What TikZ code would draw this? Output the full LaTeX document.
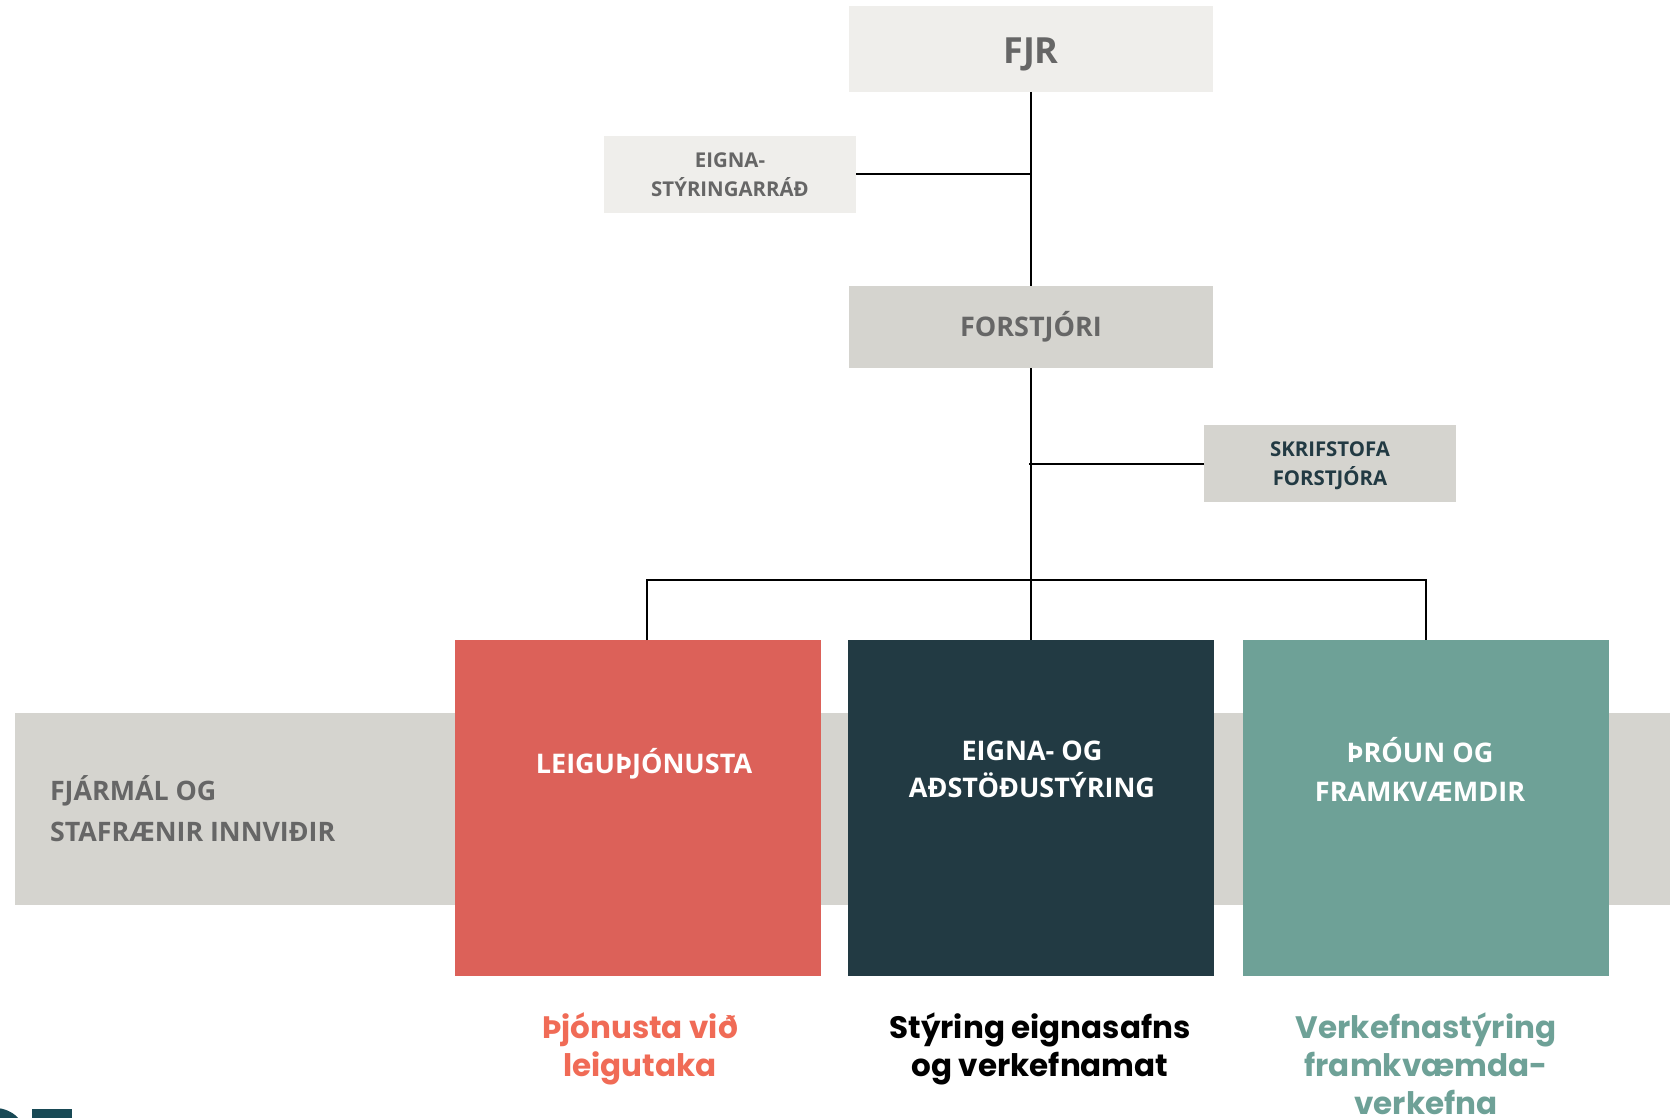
\documentclass[tikz,border=0pt]{standalone}
\usepackage{fontspec}
\setmainfont{Open Sans}
\newfontfamily\popfont{Poppins}
\definecolor{paleBox}{HTML}{EFEEEB}
\definecolor{greyBox}{HTML}{D5D4CF}
\definecolor{greyText}{HTML}{666666}
\definecolor{darkTeal}{HTML}{223A43}
\definecolor{redBox}{HTML}{DC6159}
\definecolor{tealBox}{HTML}{6EA197}
\definecolor{redText}{HTML}{F06B56}
\definecolor{tealText}{HTML}{6EA197}
\definecolor{logoTeal}{HTML}{184955}
\begin{document}
\begin{tikzpicture}[x=1pt,y=-1pt,
  box/.style={rectangle, inner sep=0pt, outer sep=0pt},
  txt/.style={inner sep=0pt, outer sep=0pt},
  smalllbl/.style={align=center, font=\bfseries\fontsize{20.4}{29}\selectfont},
  biglbl/.style={font=\bfseries\fontsize{27}{38}\selectfont},
  sublbl/.style={txt, align=center, font=\popfont\bfseries\fontsize{31}{38}\selectfont},
  conn/.style={draw=black, line width=2pt}]
\useasboundingbox (0,0) rectangle (1670,1118);
\begin{scope}
\clip (0,0) rectangle (1670,1118);
% grey band
\node[box, fill=greyBox, minimum width=1660pt, minimum height=192pt, anchor=north west] (band) at (15,713) {};
% top boxes
\node[box, fill=paleBox, minimum width=364pt, minimum height=86pt, text=greyText,
      text height=29.5pt, text depth=0pt,
      font=\bfseries\fontsize{36}{45}\selectfont] (fjr) at (1031,49) {FJR};
\node[box, fill=paleBox, minimum width=252pt, minimum height=77pt, text=greyText, smalllbl] (esr) at (730,174.5) {EIGNA-\\STÝRINGARRÁÐ};
\node[box, fill=greyBox, minimum width=364pt, minimum height=82pt, text=greyText, biglbl] (forst) at (1031,327) {FORSTJÓRI};
\node[box, fill=greyBox, minimum width=252pt, minimum height=77pt, text=darkTeal, smalllbl,
      text depth=0pt] (skr) at (1330,463.5) {SKRIFSTOFA\\FORSTJÓRA};
% department boxes
\node[box, fill=redBox, minimum width=366pt, minimum height=336pt, anchor=north west] (leig) at (455,640) {};
\node[box, fill=darkTeal, minimum width=366pt, minimum height=336pt, anchor=north west] (eign) at (848,640) {};
\node[box, fill=tealBox, minimum width=366pt, minimum height=336pt, anchor=north west] (throun) at (1243,640) {};
% labels inside band / boxes
\node[txt, text=greyText, align=left, anchor=base west, font=\bfseries\fontsize{26.8}{41}\selectfont] (fin) at (50,841) {FJÁRMÁL OG\\STAFRÆNIR INNVIÐIR};
\node[txt, biglbl, text=white, anchor=base] (leigt) at (644,773) {LEIGUÞJÓNUSTA};
\node[txt, text=white, align=center, anchor=base, font=\bfseries\fontsize{27}{37}\selectfont] (eignt) at (1032,797) {EIGNA- OG\\AÐSTÖÐUSTÝRING};
\node[txt, text=white, align=center, anchor=base, font=\bfseries\fontsize{27}{39}\selectfont] (thrount) at (1420,801) {ÞRÓUN OG\\FRAMKVÆMDIR};
% sub labels
\node[sublbl, text=redText, anchor=base] (sub1) at (640,1076) {Þjónusta við\\leigutaka};
\node[sublbl, text=black, anchor=base] (sub2) at (1040,1076) {Stýring eignasafns\\og verkefnamat};
\node[sublbl, text=tealText, anchor=base] (sub3) at (1426,1114) {Verkefnastýring\\framkvæmda-\\verkefna};
% connectors
\draw[conn] (fjr.south) -- (forst.north);
\draw[conn] (esr.east) -- (esr.east -| fjr.south);
\draw[conn] (forst.south) -- (forst.south |- eign.north);
\coordinate (skrj) at (1029,463.5);
\draw[conn] (skr.west) -- (skrj);
\coordinate (busL) at (646.5,579.5);
\coordinate (busR) at (throun.north |- busL);
\draw[conn] (busL |- leig.north) -- (busL) -- (busR) -- (throun.north);
% cut-off logo at bottom left
\fill[logoTeal] (-5,1140) circle (32pt);
\fill[logoTeal] (32,1109) rectangle (72,1130);
\end{scope}
\end{tikzpicture}
\end{document}
